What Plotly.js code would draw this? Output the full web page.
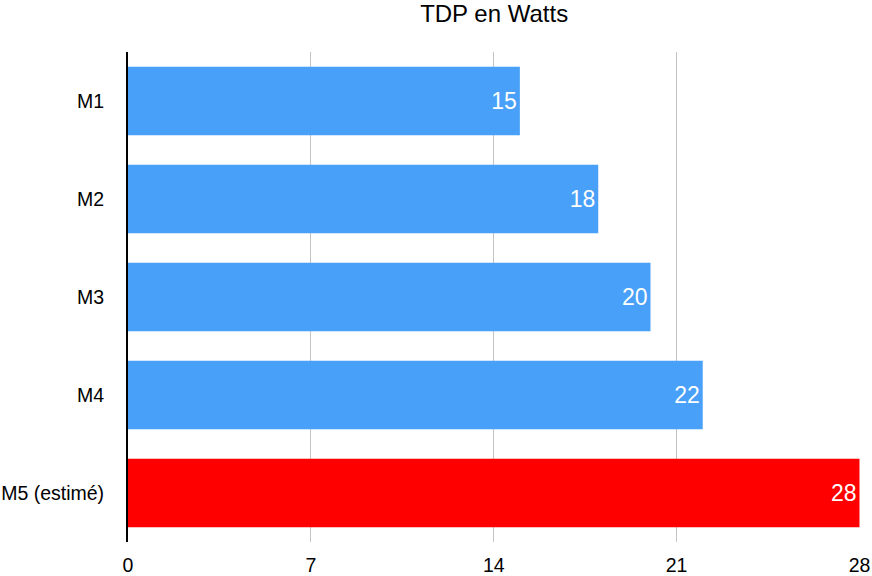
<!DOCTYPE html>
<html>
<head>
<meta charset="utf-8">
<script src="https://cdn.plot.ly/plotly-3.0.1.min.js"></script>
<style>html,body{margin:0;padding:0;background:#fff;}#chart{width:872px;height:576px;}</style>
</head>
<body>
<div id="chart"></div>
<script>
const categories = ["M1", "M2", "M3", "M4", "M5 (estimé)"];
const tdpValues = [15, 18, 20, 22, 28];
const barColors = ["#48a0f8", "#48a0f8", "#48a0f8", "#48a0f8", "#ff0000"];
const xTicks = [0, 7, 14, 21, 28];

const trace = {
  type: "bar",
  orientation: "h",
  y: categories,
  x: tdpValues,
  text: tdpValues.map(String),
  textposition: "inside",
  insidetextanchor: "end",
  textfont: {color: "#ffffff", size: 23, family: "Liberation Sans, Arial, sans-serif"},
  marker: {color: barColors},
  hoverinfo: "none",
  cliponaxis: false
};

const layout = {
  width: 872, height: 576,
  margin: {l: 128, r: 12, t: 52, b: 34},
  paper_bgcolor: "#ffffff", plot_bgcolor: "#ffffff",
  font: {family: "Liberation Sans, Arial, sans-serif", color: "#000000", size: 19.5},
  title: {text: "TDP en Watts", x: 0.5667, xanchor: "center", y: 0.977, yanchor: "middle", pad: {t: 0, b: 0}, font: {size: 24, color: "#000"}},
  bargap: 0.3,
  showlegend: false,
  xaxis: {
    range: [0, 28.02],
    tickvals: xTicks,
    ticktext: xTicks.map(String),
    showgrid: true, gridcolor: "#c4c4c4", gridwidth: 1,
    zeroline: false, showline: false,
    ticks: "outside", ticklen: 6, tickcolor: "rgba(0,0,0,0)",
    tickfont: {size: 19.5},
    fixedrange: true
  },
  yaxis: {
    autorange: "reversed",
    showline: true, linecolor: "#000000", linewidth: 2,
    showgrid: false, zeroline: false,
    ticks: "outside", ticklen: 18, tickcolor: "rgba(0,0,0,0)",
    tickfont: {size: 19.5},
    fixedrange: true
  }
};

Plotly.newPlot("chart", [trace], layout, {displayModeBar: false, staticPlot: true});
</script>
</body>
</html>
